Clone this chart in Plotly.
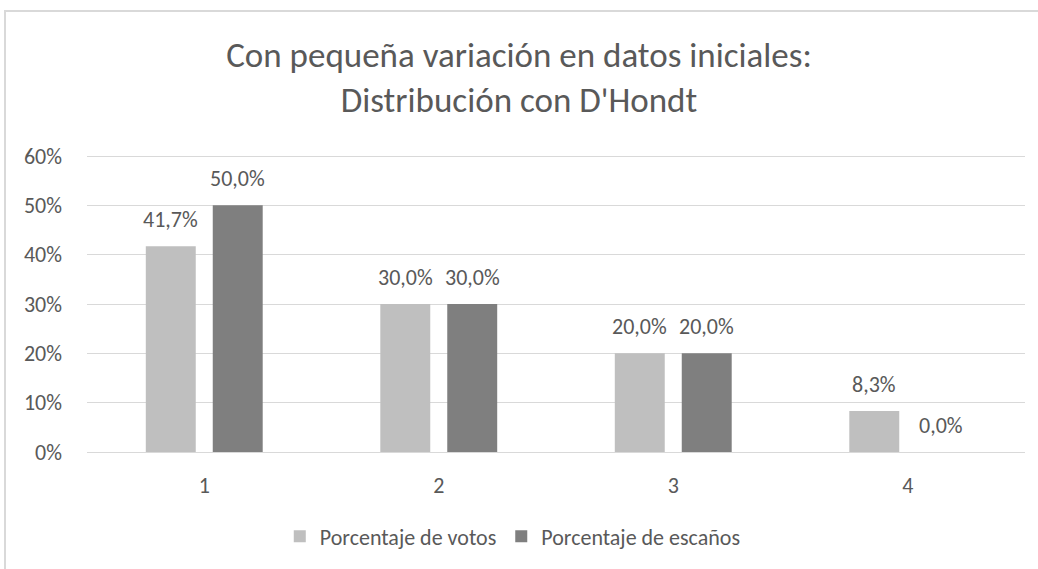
import plotly.graph_objects as go

categories = ["1", "2", "3", "4"]
votos = [0.417, 0.30, 0.20, 0.083]
escanos = [0.50, 0.30, 0.20, 0.0]
series_names = ["Porcentaje de votos", "Porcentaje de escaños"]
y_ticks = [0, 0.1, 0.2, 0.3, 0.4, 0.5, 0.6]
y_labels = ["0%", "10%", "20%", "30%", "40%", "50%", "60%"]
title_text = "Con pequeña variación en datos iniciales:<br>Distribución con D'Hondt"

FONT = "Carlito, Calibri, Lato, sans-serif"
TXT = "#595959"
colors = ["#BFBFBF", "#7F7F7F"]

def fmt(v):
    return f"{v*100:.1f}%".replace(".", ",")

fig = go.Figure()
for name, vals, col in zip(series_names, [votos, escanos], colors):
    fig.add_trace(go.Bar(
        x=categories, y=vals, name=name, marker=dict(color=col, line=dict(width=0)),
    ))

# data labels above each bar (x given as category index)
shifts = [-33.5, 33.5]
for vals, sh in zip([votos, escanos], shifts):
    for i, v in enumerate(vals):
        fig.add_annotation(x=i, y=v, text=fmt(v), showarrow=False, xshift=sh, yshift=27,
                           yanchor="middle", xanchor="center",
                           font=dict(family=FONT, size=22, color=TXT))

PT, PH = 154, 298  # plot top and height in px
fig.update_layout(
    width=1038, height=569,
    margin=dict(l=87, r=13, t=PT, b=569 - PT - PH, autoexpand=False),
    paper_bgcolor="white", plot_bgcolor="white",
    barmode="group", bargap=0.429, bargroupgap=0.254,
    font=dict(family=FONT, color=TXT),
    title=dict(text=title_text, x=0.5, xref="container", xanchor="center",
               y=0.883, yref="container", yanchor="middle",
               font=dict(family=FONT, size=35, color=TXT)),
    legend=dict(orientation="h", x=0.494, xanchor="center", xref="container",
                y=0.057, yref="container", yanchor="middle",
                font=dict(family=FONT, size=22, color=TXT), traceorder="normal"),
    shapes=[dict(type="rect", xref="paper", yref="paper",
                 x0=(5 - 87) / 938, x1=1.2, y0=-0.8, y1=(PT + PH - 11) / PH,
                 line=dict(color="#D9D9D9", width=2), layer="below")],
)
fig.update_xaxes(type="category", range=[-0.5, 3.5], showgrid=False, showline=True,
                 linecolor="#D9D9D9", linewidth=1, ticks="",
                 tickfont=dict(family=FONT, size=22, color=TXT), ticklabelstandoff=14)
fig.update_yaxes(range=[0, 0.6 * PH / 296], tickvals=y_ticks, ticktext=y_labels, showgrid=True,
                 gridcolor="#D9D9D9", gridwidth=1, zeroline=False, showline=False,
                 tickfont=dict(family=FONT, size=22, color=TXT), ticklabelstandoff=24)

fig.write_html("out.html", config={"displayModeBar": False},
               post_script="document.body.style.margin='0';")
